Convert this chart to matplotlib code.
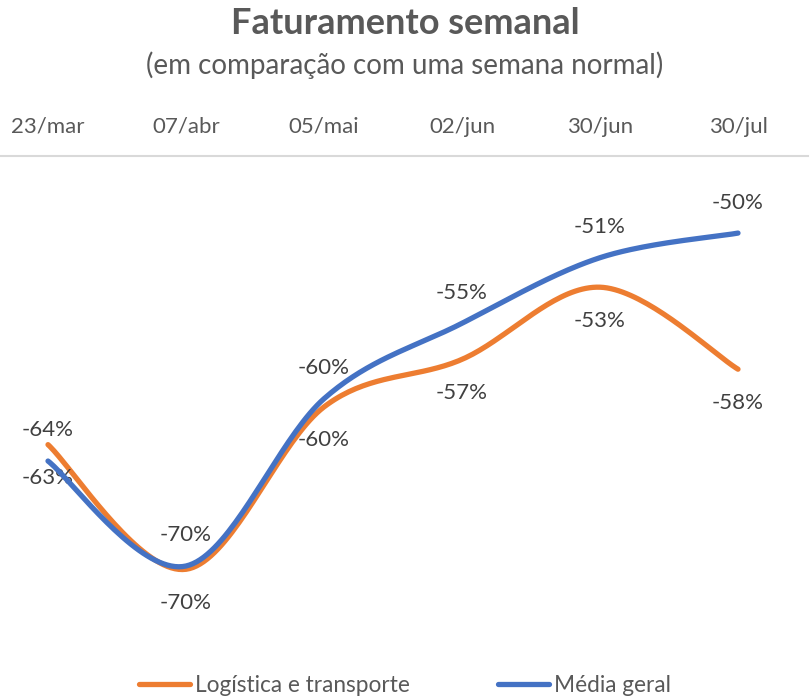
import numpy as np
import matplotlib
matplotlib.use("Agg")
import matplotlib.pyplot as plt
from matplotlib.lines import Line2D

categories = ["23/mar", "07/abr", "05/mai", "02/jun", "30/jun", "30/jul"]
logistica = [-62.6, -70.2, -60.3, -57.4, -53.0, -58.0]
media = [-63.6, -70.0, -59.8, -55.2, -51.2, -49.7]

title = "Faturamento semanal"
subtitle = "(em comparação com uma semana normal)"
label_log = "Logística e transporte"
label_med = "Média geral"

ORANGE = "#ED7D31"
BLUE = "#4472C4"
TEXT = "#595959"
LABEL = "#404040"
FONT = "Lato"


def smooth(xs, ys, n=40):
    xs = np.asarray(xs, float)
    ys = np.asarray(ys, float)
    px = np.concatenate([[xs[0]], xs, [xs[-1]]])
    py = np.concatenate([[ys[0]], ys, [ys[-1]]])
    t = np.linspace(0, 1, n)
    outx, outy = [], []
    for i in range(1, len(px) - 2):
        p0 = np.array([px[i], py[i]])
        p3 = np.array([px[i + 1], py[i + 1]])
        p1 = p0 + (np.array([px[i + 1], py[i + 1]]) - np.array([px[i - 1], py[i - 1]])) / 6
        p2 = p3 - (np.array([px[i + 2], py[i + 2]]) - np.array([px[i], py[i]])) / 6
        b = ((1 - t) ** 3)[:, None] * p0 + (3 * (1 - t) ** 2 * t)[:, None] * p1 \
            + (3 * (1 - t) * t ** 2)[:, None] * p2 + (t ** 3)[:, None] * p3
        outx.extend(b[:, 0])
        outy.extend(b[:, 1])
    return np.array(outx), np.array(outy)


W, H = 812, 699
fig = plt.figure(figsize=(W / 100, H / 100), dpi=100)
ax_top, ax_bot = 156, 648
ax = fig.add_axes([0, 1 - ax_bot / H, 808 / W, (ax_bot - ax_top) / H])

x = np.arange(len(categories))
sx, sy = smooth(x, logistica)
ax.plot(sx, sy, color=ORANGE, lw=3.8, solid_capstyle="round", zorder=3)
sx, sy = smooth(x, media)
ax.plot(sx, sy, color=BLUE, lw=3.8, solid_capstyle="round", zorder=4)

for xi, v in zip(x, media):
    ax.annotate(f"{v:.0f}%", (xi, v), xytext=(0, 22), textcoords="offset points",
                ha="center", va="center", fontsize=16, color=LABEL, family=FONT)
for xi, v in zip(x, logistica):
    ax.annotate(f"{v:.0f}%", (xi, v), xytext=(0, -24), textcoords="offset points",
                ha="center", va="center", fontsize=16, color=LABEL, family=FONT)

ax.set_xlim(-48 / 138, (808 - 48) / 138)
ax.set_ylim(-75, -45)
ax.set_xticks(x)
ax.set_xticklabels(categories, family=FONT, fontsize=16, color=TEXT)
ax.xaxis.tick_top()
ax.tick_params(axis="x", length=0, pad=14)
ax.set_yticks([])
for s in ["left", "right", "bottom"]:
    ax.spines[s].set_visible(False)
ax.spines["top"].set_color("#D9D9D9")
ax.spines["top"].set_linewidth(1.5)
ax.set_facecolor("none")

fig.text(405 / W, 1 - 23 / H, title, ha="center", va="center", fontsize=26,
         fontweight="bold", color=TEXT, family=FONT)
fig.text(405 / W, 1 - 65 / H, subtitle, ha="center", va="center", fontsize=20,
         color=TEXT, family=FONT)

handles = [Line2D([], [], color=ORANGE, lw=3.8, solid_capstyle="round"),
           Line2D([], [], color=BLUE, lw=3.8, solid_capstyle="round")]
leg = fig.legend(handles, [label_log, label_med], loc="center",
                 bbox_to_anchor=(405 / W, 1 - 685 / H), ncol=2, frameon=False,
                 handlelength=2.25, handletextpad=0.2, columnspacing=3.9,
                 prop={"family": FONT, "size": 16.3})
for t in leg.get_texts():
    t.set_color(TEXT)

fig.savefig("out.png", dpi=100, facecolor="white")
